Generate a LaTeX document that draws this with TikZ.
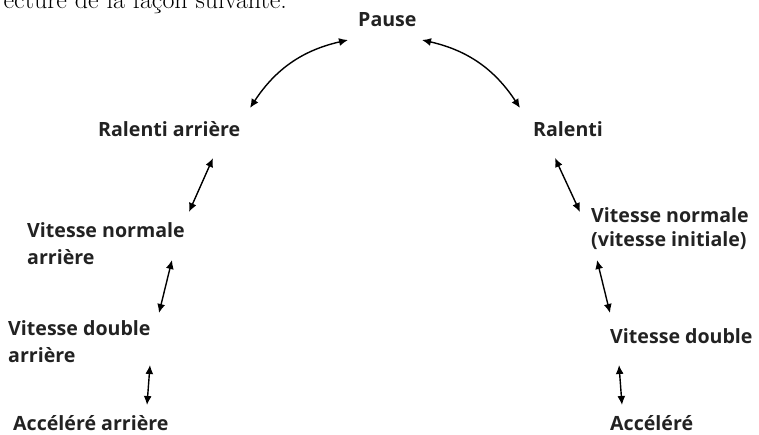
\documentclass[tikz,border=0pt]{standalone}
\usepackage{fontspec}
\setsansfont{Open Sans}[Ligatures=NoCommon]
\usetikzlibrary{arrows.meta}
\definecolor{txt}{HTML}{222222}
\begin{document}
\begin{tikzpicture}[x=1pt,y=-1pt,
  lbl/.style={inner sep=0pt,anchor=base west,align=left,text=txt,
    font=\sffamily\bfseries\fontsize{19.6}{27}\selectfont},
  lblr/.style={lbl,font=\sffamily\bfseries\fontsize{19.6}{24}\selectfont},
  dbl/.style={{Latex[length=9pt,width=8pt]}-{Latex[length=9pt,width=8pt]},line width=1.4pt,black}]
\useasboundingbox (0,0) rectangle (759,435);
\node[inner sep=0pt,anchor=base east,font=\fontsize{26}{30}\selectfont] (intro) at (287,9) {ecture de la façon suivante.};
\node[lbl] (pause) at (358,27) {Pause};
\node[lbl] (rarr) at (98,137) {Ralenti arrière};
\node[lbl] (ral) at (533,137) {Ralenti};
\node[lbl] (vnarr) at (27,265) {Vitesse normale\\arrière};
\node[lbl] (vdarr) at (8,362) {Vitesse double\\arrière};
\node[lbl] (acarr) at (13,430) {Accéléré arrière};
\node[lblr] (vn) at (591,247) {Vitesse normale\\(vitesse initiale)};
\node[lbl] (vd) at (610,343) {Vitesse double};
\node[lbl] (ac) at (610,430) {Accéléré};
% arrow end points
\coordinate (p1a) at (250,108); \coordinate (p1b) at (348,40);
\coordinate (p2a) at (422,40);  \coordinate (p2b) at (520,108);
\coordinate (l1a) at (213,158); \coordinate (l1b) at (189,212);
\coordinate (l2a) at (172,260); \coordinate (l2b) at (159,313);
\coordinate (l3a) at (150,365); \coordinate (l3b) at (147,405);
\coordinate (r1a) at (555,158); \coordinate (r1b) at (580,212);
\coordinate (r2a) at (597,260); \coordinate (r2b) at (610,313);
\coordinate (r3a) at (619,365); \coordinate (r3b) at (622,405);
\draw[dbl] (p1a) to[bend left=22] (p1b);
\draw[dbl] (p2a) to[bend left=22] (p2b);
\draw[dbl] (l1a) -- (l1b);
\draw[dbl] (l2a) -- (l2b);
\draw[dbl] (l3a) -- (l3b);
\draw[dbl] (r1a) -- (r1b);
\draw[dbl] (r2a) -- (r2b);
\draw[dbl] (r3a) -- (r3b);
\end{tikzpicture}
\end{document}
